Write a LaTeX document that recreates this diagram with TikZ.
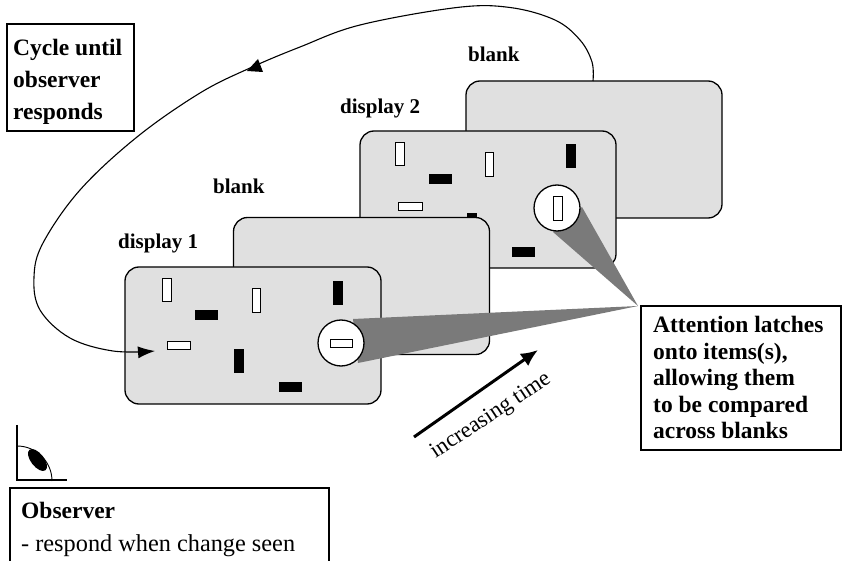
\documentclass[tikz,border=0pt]{standalone}
\usepackage{fontspec}
\setmainfont{Liberation Serif}
\usetikzlibrary{arrows.meta}
\definecolor{panel}{gray}{0.88}
\tikzset{
 panelbox/.style={draw=black,line width=1.3pt,fill=panel,rounded corners=14pt,minimum width=256pt,minimum height=137pt,inner sep=0pt,outer sep=0pt},
 itw/.style={draw=black,line width=1pt,fill=white,inner sep=0pt,outer sep=0pt,minimum width=#1},
 whitetall/.style={itw=8pt,minimum height=22pt},
 whitewide/.style={itw=22pt,minimum height=8pt},
 blacktall/.style={draw=none,fill=black,inner sep=0pt,minimum width=10pt,minimum height=24pt},
 blackwide/.style={draw=none,fill=black,inner sep=0pt,minimum width=23pt,minimum height=10pt},
 lens/.style={circle,draw=black,line width=1.3pt,fill=white,minimum size=46pt,inner sep=0pt,outer sep=0pt},
 beam/.style={fill=black!52,draw=none},
 title/.style={font=\fontsize{21}{24}\selectfont\bfseries,inner sep=0pt,anchor=base west},
 notebox/.style={draw=black,line width=2.2pt,fill=white,inner sep=0pt,outer sep=0pt},
 notetext/.style={inner sep=0pt,anchor=north west,align=left},
 conn/.style={line width=1.1pt},
 head/.style={-{Latex[length=17pt,width=12pt]}}
}
\begin{document}
\begin{tikzpicture}[x=1pt,y=-1pt]
\useasboundingbox (0,0) rectangle (844,561);
% cards
\node[panelbox] (blankb) at (594,149.5) {};
\node[panelbox] (disptwo) at (488,199.5) {};
\node[blackwide] (d2a) at (440,179) {};
\node[blackwide] (d2b) at (523,252) {};
\node[blacktall] (d2c) at (571,156.5) {};
\node[blacktall] (d2d) at (472,225) {};
\node[whitetall,minimum width=9pt,minimum height=23pt] (d2e) at (399.5,154.5) {};
\node[whitetall,minimum height=24pt] (d2f) at (489.5,165) {};
\node[whitewide,minimum width=24pt] (d2g) at (410,206.5) {};
\node[panelbox] (blanka) at (361.5,286) {};
\node[panelbox] (dispone) at (253,335.5) {};
\node[whitetall,minimum width=9pt,minimum height=23pt] (d1a) at (166.5,290.5) {};
\node[whitetall,minimum height=24pt] (d1b) at (256,301) {};
\node[blacktall] (d1c) at (337.5,293) {};
\node[blackwide] (d1d) at (206.5,315) {};
\node[whitewide,minimum width=23pt] (d1e) at (178.5,345.5) {};
\node[blacktall] (d1f) at (239,361) {};
\node[blackwide] (d1g) at (290,387.5) {};
% attention beams
\coordinate (apex) at (638,306);
\fill[beam] (553,232) -- (apex) -- (582,207) -- cycle;
\fill[beam] (353,319) -- (apex) -- (358,363) -- cycle;
\node[lens] (lenstwo) at (557,208) {};
\node[whitetall,minimum width=9pt,minimum height=24pt] (lenstwoitem) at (558,209) {};
\node[lens] (lensone) at (341,343) {};
\node[whitewide] (lensoneitem) at (341,343.5) {};
% labels
\node[title] (t1) at (118,249) {display 1};
\node[title] (t2) at (213,194) {blank};
\node[title] (t3) at (340,114) {display 2};
\node[title] (t4) at (468,62) {blank};
% notes
\node[notebox,minimum width=127pt,minimum height=107pt] (cyc) at (70.5,77.5) {};
\node[notetext,font=\fontsize{23.5}{32}\selectfont\bfseries] (cyctext) at (13,39) {Cycle until\\observer\\responds};
\node[notebox,minimum width=200pt,minimum height=144pt] (att) at (741,378) {};
\node[notetext,font=\fontsize{23.5}{26.6}\selectfont\bfseries] (atttext) at (653,316) {Attention latches\\onto items(s),\\allowing them\\to be compared\\across blanks};
\coordinate (obsa) at (10,575);
\coordinate (obsb) at (10,488);
\coordinate (obsc) at (329,488);
\coordinate (obsd) at (329,575);
\draw[line width=2.2pt,fill=white] (obsa) -- (obsb) -- (obsc) -- (obsd);
\node[anchor=base west,inner sep=0pt,font=\fontsize{23.5}{26}\selectfont\bfseries] (obs) at (21,518) {Observer};
\node[anchor=base west,inner sep=0pt,font=\fontsize{24.3}{26}\selectfont] (resp) at (21,551) {- respond when change seen};
% observer icon
\coordinate (eyetop) at (17,425);
\coordinate (eyecorner) at (17,480);
\coordinate (eyeend) at (67,480);
\draw[line width=1.8pt] (eyetop) -- (eyecorner) -- (eyeend);
\draw[line width=0.9pt] (17,446) arc[start angle=-90,end angle=0,radius=35];
\fill[black] (37.5,460) ellipse[x radius=13,y radius=6.5,rotate=-52];
% loop
\coordinate (looptop) at (593,81);
\coordinate (loopend) at (155,351);
\draw[conn,head] plot[smooth,tension=0.6] coordinates {(looptop) (592,62) (580,40) (555,20) (510,7.5) (457,7.5) (360,25) (300,47) (250,68) (200,93) (137,137) (80,190) (43,243) (34,277) (40,310) (70,338) (113,351) (loopend)};
\fill[black] (247,71) -- (258,59) -- (263,72) -- cycle;
% time arrow
\coordinate (timea) at (414,437);
\coordinate (timeb) at (538,350);
\draw[line width=3pt,-{Latex[length=17pt,width=15pt]}] (timea) -- (timeb);
\node[rotate=33.5,font=\fontsize{22.7}{26}\selectfont,inner sep=0pt] (tl) at (491,416) {increasing time};
\end{tikzpicture}
\end{document}
